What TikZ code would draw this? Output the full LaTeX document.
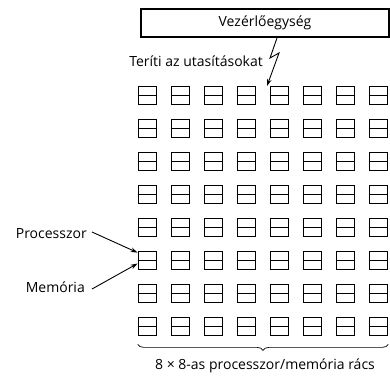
\documentclass[tikz,border=0pt]{standalone}
\usepackage{fontspec}
\setmainfont{Open Sans}
\usetikzlibrary{positioning,decorations.pathreplacing,arrows.meta}
\begin{document}
\begin{tikzpicture}[
    x=1pt, y=-1pt,
    font=\fontsize{14}{16}\selectfont,
    arrowstyle/.style={draw, line width=0.9pt, -{Stealth[length=7pt,width=4.5pt]}},
    control/.style={rectangle, draw, line width=1.3pt, minimum width=248pt,
        minimum height=28pt, inner sep=0pt},
    cell/.style={rectangle, draw, line width=1.7pt, minimum width=18pt,
        minimum height=18pt, inner sep=0pt},
    label/.style={inner sep=0pt}
]
\useasboundingbox (0,0) rectangle (390,376);
\node (Control) [control] at (265,23) {Vezérlőegység};
% the 8x8 grid
\foreach \r in {1,...,8}{
  \foreach \c in {1,...,8}{
    \node (Cell\r\c) [cell] at ({147.5+33*(\c-1)},{95.5+33*(\r-1)}) {};
    \draw[line width=1.7pt] (Cell\r\c.west) -- (Cell\r\c.east);
  }
}
\node (Broadcast) [label, anchor=east] at (263,61) {Teríti az utasításokat};
\coordinate (BoltTop) at (277,38);
\draw [arrowstyle] (BoltTop) -- (270,58) -- (279,53) -- (267,86);
\node (Processor) [label, anchor=east] at (87,234) {Processzor};
\node (Memory) [label, anchor=east] at (85,287) {Memória};
\draw [arrowstyle] ([xshift=5pt,yshift=2pt]Processor.east) -- ([yshift=-2pt]Cell61.north west);
\draw [arrowstyle] ([xshift=7pt,yshift=-2pt]Memory.east) -- ([yshift=-3pt]Cell61.west);
\draw [line width=0.7pt, decorate, decoration={brace, mirror, amplitude=6pt}]
  ([yshift=-8pt]Cell81.south west) -- ([yshift=-8pt]Cell88.south east);
\node (Grid) [label] at (265,366) {8 × 8-as processzor/memória rács};
\end{tikzpicture}
\end{document}
